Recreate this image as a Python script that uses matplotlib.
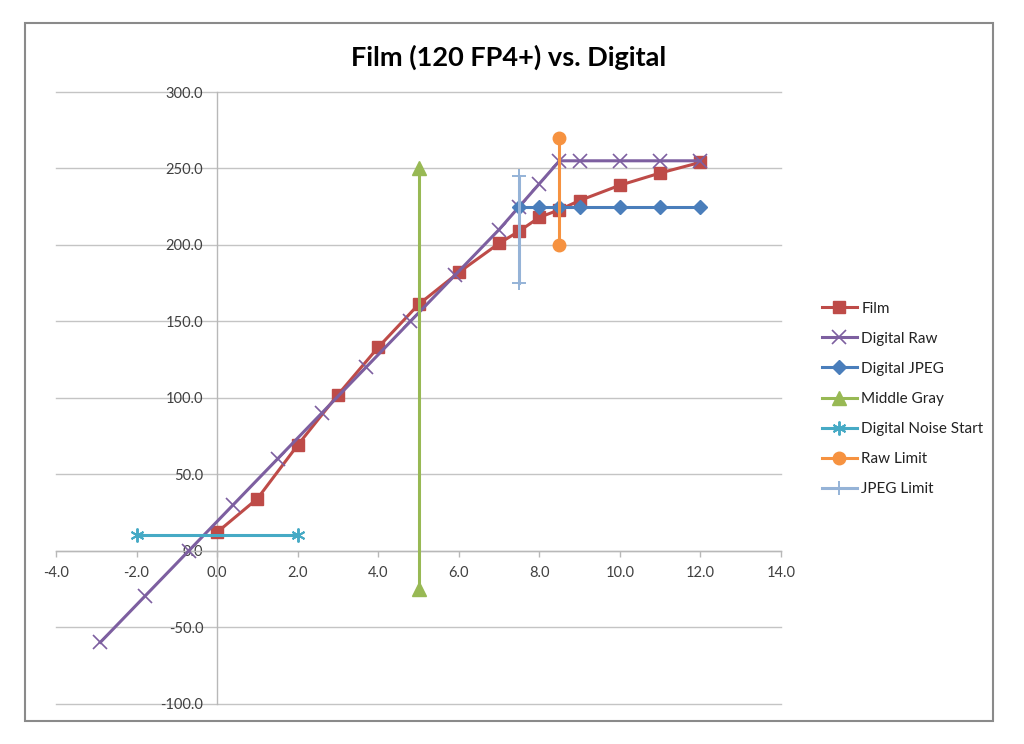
import matplotlib
matplotlib.use("Agg")
import matplotlib.pyplot as plt
from matplotlib.patches import Rectangle
from matplotlib.ticker import FormatStrFormatter, MultipleLocator

plt.rcParams['font.family'] = ['Lato', 'DejaVu Sans']

# ---- data ----
film_x = [0, 1, 2, 3, 4, 5, 6, 7, 7.5, 8, 8.5, 9, 10, 11, 12]
film_y = [12, 34, 69, 102, 133, 161, 182, 201, 209, 218, 223, 229, 239, 247, 254]

raw_x = [-2.9, -1.8, -0.7, 0.4, 1.5, 2.6, 3.7, 4.8, 5.9, 7.0, 7.5, 8.0, 8.5, 9, 10, 11, 12]
raw_y = [-60, -30, 0, 30, 60, 90, 120, 150, 180, 210, 225, 240, 255, 255, 255, 255, 255]

jpeg_x = [7.5, 8, 8.5, 9, 10, 11, 12]
jpeg_y = [225, 225, 225, 225, 225, 225, 225]

gray_x = [5, 5]
gray_y = [-25, 250]

noise_x = [-2, 2]
noise_y = [10, 10]

rawlim_x = [8.5, 8.5]
rawlim_y = [270, 200]

jpeglim_x = [7.5, 7.5]
jpeglim_y = [245, 175]

title = "Film (120 FP4+) vs. Digital"

# ---- figure ----
fig = plt.figure(figsize=(10.24, 7.44), dpi=100)
fig.patches.append(Rectangle((25/1024, 1-721/744), 968/1024, 698/744,
                             transform=fig.transFigure, fill=False,
                             edgecolor='#8a8a8a', linewidth=1.5, zorder=0))

ax = fig.add_axes([56/1024, 1-703.5/744, (781-56)/1024, (703.5-92)/744])
ax.set_xlim(-4, 14)
ax.set_ylim(-100, 300)

lw = 2.2
ax.plot(film_x, film_y, color='#BE4B48', lw=lw, marker='s', ms=9,
        label='Film', zorder=3, clip_on=False)
ax.plot(raw_x, raw_y, color='#7D5FA0', lw=lw, marker='x', ms=9.5, mew=1.2,
        label='Digital Raw', zorder=4, clip_on=False)
ax.plot(jpeg_x, jpeg_y, color='#4A7EBB', lw=lw, marker='D', ms=7.5,
        label='Digital JPEG', zorder=5, clip_on=False)
ax.plot(gray_x, gray_y, color='#98B954', lw=lw, marker='^', ms=9.5,
        label='Middle Gray', zorder=6, clip_on=False)
ax.plot(noise_x, noise_y, color='#46AAC5', lw=lw, marker=(6, 2, 0), ms=10,
        mew=1.4, label='Digital Noise Start', zorder=7, clip_on=False)
ax.plot(rawlim_x, rawlim_y, color='#F69240', lw=lw, marker='o', ms=9,
        label='Raw Limit', zorder=8, clip_on=False)
ax.plot(jpeglim_x, jpeglim_y, color='#95B3D7', lw=lw, marker='+', ms=10,
        mew=1.4, label='JPEG Limit', zorder=9, clip_on=False)

# axes styling (Excel-like, axes crossing at 0)
for s in ['top', 'right']:
    ax.spines[s].set_visible(False)
ax.spines['left'].set_position(('data', 0))
ax.spines['bottom'].set_position(('data', 0))
for s in ['left', 'bottom']:
    ax.spines[s].set_color('#b8b8b8')
    ax.spines[s].set_linewidth(1.0)

ax.xaxis.set_major_locator(MultipleLocator(2))
ax.yaxis.set_major_locator(MultipleLocator(50))
ax.xaxis.set_major_formatter(FormatStrFormatter('%.1f'))
ax.yaxis.set_major_formatter(FormatStrFormatter('%.1f'))
ax.tick_params(axis='x', direction='out', length=4, width=1, color='#b8b8b8',
               labelsize=10.5, labelcolor='#404040', pad=7)
ax.tick_params(axis='y', length=0, labelsize=10.5, labelcolor='#404040', pad=10)
ax.yaxis.grid(True, color='#c4c4c4', linewidth=1.0, clip_on=False)
ax.set_axisbelow(True)

fig.text(509/1024, 1-57/744, title, ha='center', va='center',
         fontsize=19.5, fontweight='bold', color='#000000')

fig.legend(loc='upper left', bbox_to_anchor=(808/1024, 1-288/744),
           frameon=False, fontsize=11, handlelength=2.3, handletextpad=0.3,
           labelspacing=1.05, labelcolor='#222222')

fig.savefig('out.png', dpi=100)
